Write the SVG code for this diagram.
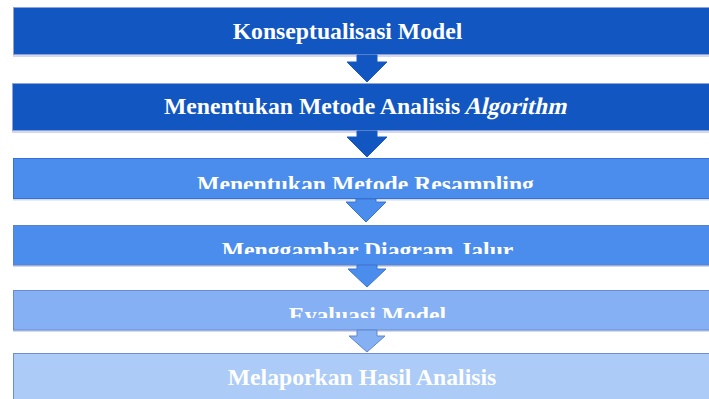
<svg xmlns="http://www.w3.org/2000/svg" width="709" height="399" viewBox="0 0 709 399">
<style>
.t{font-family:"Liberation Serif","Times New Roman",serif;font-weight:bold;font-size:23.7px;fill:#ffffff;text-anchor:middle}
.ts{font-family:"Liberation Serif","Times New Roman",serif;font-weight:bold;font-size:23.7px;fill:#ffffff}
.sh{fill:#D2D9EC}
.d{fill:#1156C1;stroke:#8FA3D8;stroke-width:1}
.m{fill:#4A8DED;stroke:#3471D8;stroke-width:1}
.m2{fill:#4A8DED;stroke:#5E80C8;stroke-width:1}
.l{fill:#85B0F4;stroke:#6A8BD0;stroke-width:1}
.x{fill:#ACCBF7;stroke:#6F8ECF;stroke-width:1}
.ad{fill:#1156C1;stroke:#1A5BC0;stroke-width:1}
.am{fill:#4A8DED;stroke:#3A73CF;stroke-width:1}
.al{fill:#85B0F4;stroke:#5F86CC;stroke-width:1}
</style>
<defs>
<clipPath id="c3"><rect x="0" y="158" width="709" height="31"/></clipPath>
<clipPath id="c4"><rect x="0" y="225" width="709" height="29"/></clipPath>
<clipPath id="c5"><rect x="0" y="290" width="709" height="28"/></clipPath>
</defs>
<rect width="709" height="399" fill="#ffffff"/>

<g id="node1">
<rect class="sh" x="13" y="55" width="700" height="2"/>
<rect class="d" x="13.5" y="7.5" width="700" height="47"/>
<text class="t" x="347.5" y="39">Konseptualisasi Model</text>
</g>

<g id="node2">
<rect class="sh" x="12" y="131" width="700" height="2"/>
<rect class="d" x="12.5" y="83.5" width="700" height="47"/>
<text class="ts" x="164" y="114">Menentukan Metode Analisis</text>
<text class="ts" transform="translate(464,114) skewX(-13)" x="0" y="0" textLength="102" lengthAdjust="spacingAndGlyphs">Algorithm</text>
</g>

<g id="node3">
<rect class="sh" x="13" y="198.5" width="700" height="2"/>
<rect class="m" x="13.5" y="158.5" width="700" height="40"/>
<text class="t" x="365.5" y="192" clip-path="url(#c3)">Menentukan Metode Resampling</text>
</g>

<g id="node4">
<rect class="sh" x="13" y="265" width="700" height="2"/>
<rect class="m2" x="13.5" y="225.5" width="700" height="39.5"/>
<text class="t" x="367.5" y="258" clip-path="url(#c4)">Menggambar Diagram Jalur</text>
</g>

<g id="node5">
<rect class="sh" x="13" y="330" width="700" height="2"/>
<rect class="l" x="13.5" y="290.5" width="700" height="39.5"/>
<text class="t" x="367.5" y="323" clip-path="url(#c5)">Evaluasi Model</text>
</g>

<g id="node6">
<rect class="x" x="13.5" y="353.5" width="700" height="50"/>
<text class="t" x="362" y="385">Melaporkan Hasil Analisis</text>
</g>

<g id="connectors">
<polygon class="ad" points="357,55 377,55 377,62 387,62 367,82 347,62 357,62"/>
<polygon class="ad" points="357,131 377,131 377,137 387,137 367,157 347,137 357,137"/>
<polygon class="am" points="356,199 376,199 376,202 386,202 366,222 346,202 356,202"/>
<polygon class="am" points="357,265 377,265 377,269 386,269 367,287 348,269 357,269"/>
<polygon class="al" points="357,330 377,330 377,336 385,336 367,352 349,336 357,336"/>
</g>
</svg>
